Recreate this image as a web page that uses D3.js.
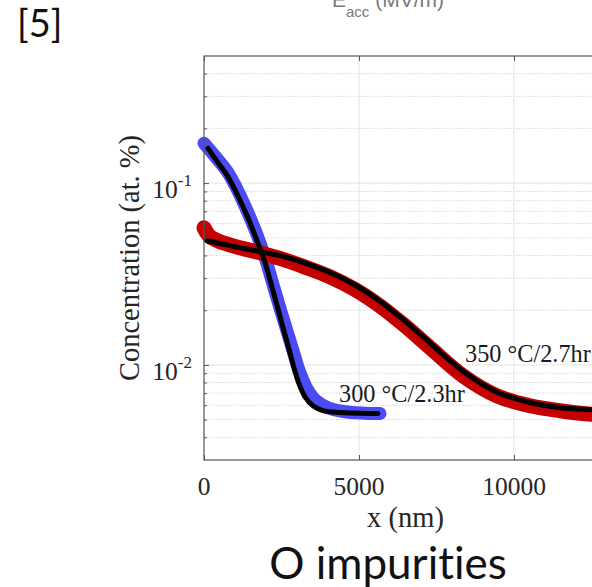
<!DOCTYPE html>
<html>
<head>
<meta charset="utf-8">
<script src="https://cdn.jsdelivr.net/npm/d3@7"></script>
<style>
  html, body { margin: 0; padding: 0; background: #fff; }
  svg { display: block; overflow: hidden; }
  text { font-variant-ligatures: none; }
</style>
</head>
<body>
<svg id="chart" width="592" height="587"></svg>
<script>
// O concentration depth profiles: measured points and diffusion fits
const data300 = [
  [0, 0.1656], [355, 0.1405], [742, 0.1163], [1097, 0.0904], [1419, 0.0686],
  [1710, 0.0520], [2000, 0.0375], [2226, 0.0277], [2452, 0.0205], [2677, 0.01535],
  [2903, 0.01148], [3097, 0.00904], [3323, 0.0074], [3613, 0.00636], [4000, 0.00582],
  [4548, 0.00553], [5194, 0.00543], [5677, 0.0054]
];
const fit300 = [
  [129, 0.1553], [419, 0.1319], [742, 0.1106], [1097, 0.0849], [1419, 0.0644],
  [1710, 0.0482], [1968, 0.0366], [2161, 0.0281], [2355, 0.0213], [2548, 0.0161],
  [2742, 0.0122], [2903, 0.00963], [3065, 0.00787], [3258, 0.00668], [3516, 0.00597],
  [3839, 0.00561], [4387, 0.00547], [5613, 0.0054]
];
const data350 = [
  [0, 0.0568], [194, 0.0507], [516, 0.0476], [1161, 0.0441], [1806, 0.0414],
  [2452, 0.0385], [3258, 0.0345], [4065, 0.0305], [4871, 0.0260], [5677, 0.0211],
  [6484, 0.0164], [7290, 0.01245], [8355, 0.00871], [9452, 0.00676], [10516, 0.00596],
  [11484, 0.0056], [12516, 0.00535], [13000, 0.00531]
];
const fit350 = [
  [97, 0.0482], [839, 0.0453], [1806, 0.0420], [2452, 0.0399], [3258, 0.0363],
  [4065, 0.0322], [4871, 0.0275], [5677, 0.0224], [6484, 0.0174], [7290, 0.0132],
  [8355, 0.00923], [9452, 0.00708], [10516, 0.00621], [11484, 0.00582], [12516, 0.00568],
  [13000, 0.00562]
];
const xTicks = [0, 5000, 10000];
const yMajor = [0.01, 0.1];
const yMajorExp = ["-2", "-1"];
const yMinor = [0.004, 0.005, 0.006, 0.007, 0.008, 0.009,
                0.02, 0.03, 0.04, 0.05, 0.06, 0.07, 0.08, 0.09,
                0.2, 0.3, 0.4];
const curveLabels = [
  { text: "300 °C/2.3hr", x: 4355, y: 0.00628 },
  { text: "350 °C/2.7hr", x: 8419, y: 0.01038 }
];

const svg = d3.select("#chart");
const pL = 204, pR = 607, pT = 56, pB = 460;

const x = d3.scaleLinear().domain([0, 13000]).range([pL, pR]);
const y = d3.scaleLog().domain([0.003, 0.5]).range([pB, pT]);

const serif = "'Liberation Serif', 'Times New Roman', serif";

// grid
const grid = svg.append("g");
grid.selectAll("line.minor").data(yMinor).join("line")
  .attr("x1", pL).attr("x2", pR)
  .attr("y1", d => y(d)).attr("y2", d => y(d))
  .attr("stroke", "#d6d6d6").attr("stroke-width", 1)
  .attr("stroke-dasharray", "1.5,1.5");
grid.selectAll("line.major").data(yMajor).join("line")
  .attr("x1", pL).attr("x2", pR)
  .attr("y1", d => y(d)).attr("y2", d => y(d))
  .attr("stroke", "#e2e2e2").attr("stroke-width", 1);
grid.selectAll("line.vx").data(xTicks.slice(1)).join("line")
  .attr("x1", d => x(d)).attr("x2", d => x(d))
  .attr("y1", pT).attr("y2", pB)
  .attr("stroke", "#e2e2e2").attr("stroke-width", 1);

// curves
const line = d3.line().x(d => x(d[0])).y(d => y(d[1])).curve(d3.curveCatmullRom.alpha(0.5));
const band = (arr, color, w) => svg.append("path").datum(arr)
  .attr("d", line).attr("fill", "none").attr("stroke", color)
  .attr("stroke-width", w).attr("stroke-linecap", "round").attr("stroke-linejoin", "round");

band(data300, "#4b4bf5", 13);
band(data350, "#c40000", 15);
band(fit300, "#000", 5);
band(fit350, "#000", 5);

// frame and ticks
svg.append("rect").attr("x", pL).attr("y", pT)
  .attr("width", pR - pL).attr("height", pB - pT)
  .attr("fill", "none").attr("stroke", "#555").attr("stroke-width", 1.2);
const gL = svg.append("g").attr("transform", `translate(${pL},0)`)
  .call(d3.axisLeft(y).tickValues(yMajor).tickSize(-5).tickFormat(""));
const gLm = svg.append("g").attr("transform", `translate(${pL},0)`)
  .call(d3.axisLeft(y).tickValues(yMinor).tickSize(-3).tickFormat(""));
const gB = svg.append("g").attr("transform", `translate(0,${pB})`)
  .call(d3.axisBottom(x).tickValues(xTicks).tickSize(-5).tickFormat(""));
const gT = svg.append("g").attr("transform", `translate(0,${pT})`)
  .call(d3.axisTop(x).tickValues(xTicks).tickSize(-5).tickFormat(""));
[gL, gLm, gB, gT].forEach(g => {
  g.select(".domain").remove();
  g.selectAll("line").attr("stroke", "#555");
});

// tick labels
svg.selectAll("text.xt").data(xTicks).join("text")
  .attr("x", d => x(d)).attr("y", 495)
  .attr("text-anchor", "middle")
  .attr("font-family", serif).attr("font-size", 25.5).attr("fill", "#262626")
  .text(d => d);

yMajor.forEach((v, i) => {
  const t = svg.append("text")
    .attr("x", 192).attr("y", y(v) + 15)
    .attr("text-anchor", "end")
    .attr("font-family", serif).attr("font-size", 25.5).attr("fill", "#262626");
  t.append("tspan").text("10");
  t.append("tspan").attr("font-size", 17).attr("dy", -12).text(yMajorExp[i]);
});

// axis labels
svg.append("text")
  .attr("x", (pL + pR) / 2).attr("y", 527)
  .attr("text-anchor", "middle")
  .attr("font-family", serif).attr("font-size", 28.5).attr("fill", "#262626")
  .text("x (nm)");
svg.append("text")
  .attr("transform", `translate(139,${(pT + pB) / 2}) rotate(-90)`)
  .attr("text-anchor", "middle")
  .attr("font-family", serif).attr("font-size", 28.5).attr("fill", "#262626")
  .text("Concentration (at. %)");

// curve annotations
svg.selectAll("text.cl").data(curveLabels).join("text")
  .attr("x", d => x(d.x)).attr("y", d => y(d.y))
  .attr("font-family", serif).attr("font-size", 24.3).attr("fill", "#1a1a1a")
  .text(d => d.text);

// slide text around the figure
const sans = "Lato, 'Open Sans', sans-serif";
svg.append("text").attr("x", 17).attr("y", 37)
  .attr("font-family", sans).attr("font-size", 38).attr("fill", "#111")
  .text("[5]");
svg.append("text").attr("x", 388).attr("y", 579)
  .attr("text-anchor", "middle")
  .attr("font-family", sans).attr("font-size", 44).attr("fill", "#111")
  .text("O impurities");

const eacc = svg.append("text").attr("x", 332).attr("y", 7)
  .attr("font-family", "'Liberation Sans', Arial, sans-serif").attr("font-size", 21).attr("fill", "#7a7a7a");
eacc.append("tspan").text("E");
eacc.append("tspan").attr("font-size", 15).attr("dy", 10).text("acc");
eacc.append("tspan").attr("dy", -10).text(" (MV/m)");
</script>
</body>
</html>
